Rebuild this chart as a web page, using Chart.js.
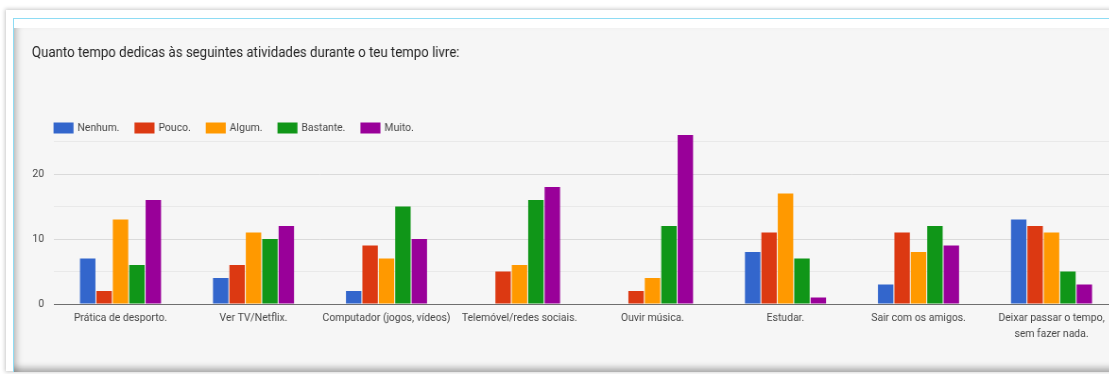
<!DOCTYPE html>
<html>
<head>
<meta charset="utf-8">
<script src="https://cdn.jsdelivr.net/npm/chart.js@4.4.1/dist/chart.umd.min.js"></script>
<style>
  html, body { margin: 0; padding: 0; }
  body { width: 1109px; height: 374px; overflow: hidden; background: #ffffff; position: relative; }
  #card { position: absolute; left: 6px; top: 10px; width: 1130px; height: 361px; background: #ffffff;
          box-shadow: 0 0 4px 1px rgba(0,0,0,0.22); }
  #rim { position: absolute; left: 13px; top: 18px; width: 1120px; height: 353px;
         border-left: 1px solid #8edcf4; border-top: 1px solid #8edcf4; }
  #panel { position: absolute; left: 14px; top: 19px; width: 1120px; height: 353px; box-sizing: border-box;
           background: #f6f6f6; border-top: 9px solid #ffffff;
           box-shadow: inset 7px 0 6px -4px rgba(0,0,0,0.22), inset 0 -8px 6px -4px rgba(0,0,0,0.3); }
  #wrap { position: absolute; left: 0; top: 0; width: 1196px; height: 374px;
          transform: scaleX(0.945); transform-origin: 0 0; }
</style>
</head>
<body>
<div id="card"></div>
<div id="rim"></div>
<div id="panel"></div>
<div id="wrap"><canvas id="chart" width="1196" height="374"></canvas></div>
<script>
// Chart content
const chartTitle = "Quanto tempo dedicas às seguintes atividades durante o teu tempo livre:";
const categories = [
  "Prática de desporto.",
  "Ver TV/Netflix.",
  "Computador (jogos, vídeos)",
  "Telemóvel/redes sociais.",
  "Ouvir música.",
  "Estudar.",
  "Sair com os amigos.",
  ["Deixar passar o tempo,", "sem fazer nada."]
];
const seriesNames = ["Nenhum.", "Pouco.", "Algum.", "Bastante.", "Muito."];
const nenhum   = [7, 4, 2, 0, 0, 8, 3, 13];
const pouco    = [2, 6, 9, 5, 2, 11, 11, 12];
const algum    = [13, 11, 7, 6, 4, 17, 8, 11];
const bastante = [6, 10, 15, 16, 12, 7, 12, 5];
const muito    = [16, 12, 10, 18, 26, 1, 9, 3];
const yTicks = [0, 5, 10, 15, 20, 25];
const yTickLabels = [0, 10, 20];

const seriesColors = ["#3366cc", "#dc3912", "#ff9900", "#109618", "#990099"];
const seriesValues = [nenhum, pouco, algum, bastante, muito];

const FONT = "Roboto, 'Liberation Sans', Arial, sans-serif";
// the canvas is drawn with a slightly condensed horizontal scale (see #wrap)
const SX = 0.945;
const px = v => v / SX;

// Title and legend row drawn above the plot area
const headerPlugin = {
  id: "header",
  afterDraw(chart) {
    const ctx = chart.ctx;
    ctx.save();
    ctx.textBaseline = "middle";
    ctx.textAlign = "left";
    ctx.fillStyle = "#262626";
    ctx.font = "14px " + FONT;
    ctx.fillText(chartTitle, px(32), 53);

    ctx.font = "11px " + FONT;
    let x = px(53.5);
    const yMid = 128;
    chart.data.datasets.forEach(ds => {
      ctx.fillStyle = ds.backgroundColor;
      ctx.fillRect(x, yMid - 5.5, px(20), 11);
      ctx.fillStyle = "#474747";
      ctx.fillText(ds.label, x + px(24), yMid);
      x += px(24) + ctx.measureText(ds.label).width + px(15);
    });
    ctx.restore();
  }
};

new Chart(document.getElementById("chart"), {
  type: "bar",
  data: {
    labels: categories,
    datasets: seriesNames.map((name, i) => ({
      label: name,
      data: seriesValues[i],
      backgroundColor: seriesColors[i],
      borderWidth: 0,
      barPercentage: 0.94,
      categoryPercentage: 0.617
    }))
  },
  options: {
    responsive: false,
    animation: false,
    layout: { padding: { top: 135, left: px(54) - px(34), right: 1196 - px(1118), bottom: 0 } },
    plugins: {
      legend: { display: false },
      title: { display: false },
      tooltip: { enabled: false }
    },
    scales: {
      x: {
        grid: { display: false, drawTicks: false },
        border: { display: true, color: "#6f6f6f", width: 1 },
        ticks: {
          color: "#474747",
          padding: 6,
          maxRotation: 0,
          autoSkip: false,
          font: { family: FONT, size: 11, lineHeight: "16px" }
        },
        afterFit(scale) { scale.height = 70; }
      },
      y: {
        min: 0,
        max: 26,
        afterBuildTicks(scale) { scale.ticks = yTicks.map(v => ({ value: v })); },
        afterFit(scale) { scale.width = px(34); },
        border: { display: false },
        grid: {
          drawTicks: false,
          color: c => (c.tick && c.tick.value === 0) ? "#6f6f6f"
                     : (c.tick && c.tick.value % 10 === 0 ? "#dadada" : "#e9e9e9"),
          lineWidth: 1
        },
        ticks: {
          padding: px(10),
          color: "#474747",
          font: { family: FONT, size: 11 },
          callback: v => yTickLabels.includes(v) ? String(v) : ""
        }
      }
    }
  },
  plugins: [headerPlugin]
});
</script>
</body>
</html>
